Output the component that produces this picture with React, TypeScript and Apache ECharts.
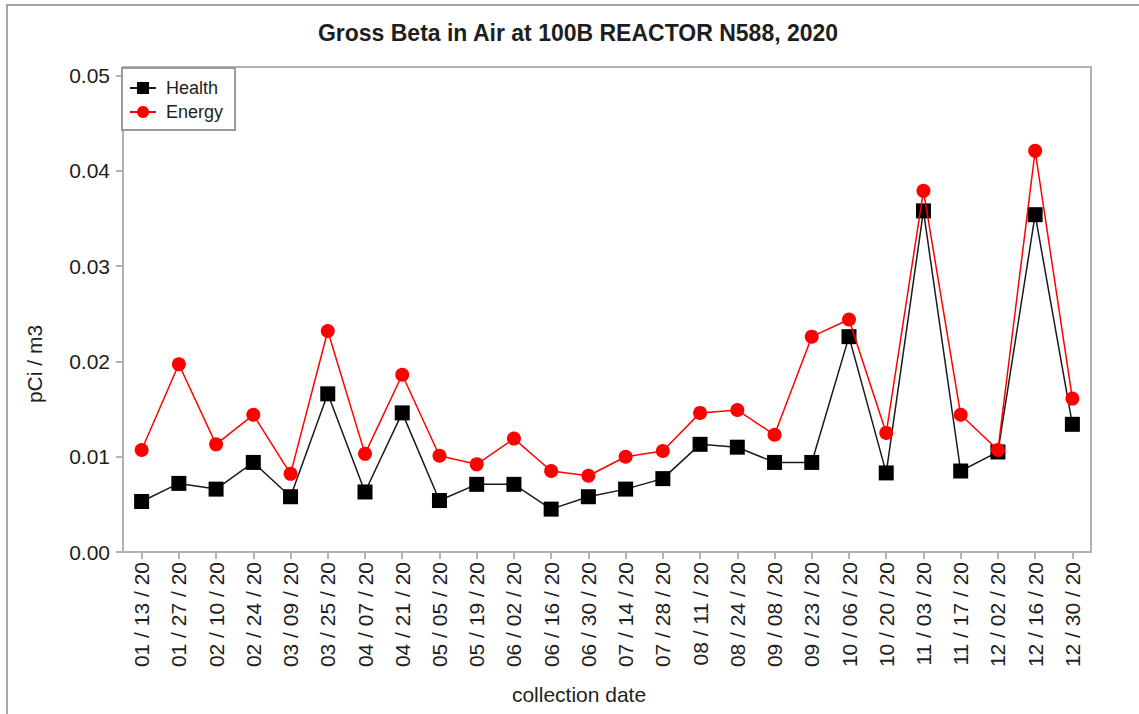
import React, { useEffect, useRef } from "react";
import * as echarts from "echarts";

const categories = [
  "01 / 13 / 20", "01 / 27 / 20", "02 / 10 / 20", "02 / 24 / 20", "03 / 09 / 20",
  "03 / 25 / 20", "04 / 07 / 20", "04 / 21 / 20", "05 / 05 / 20", "05 / 19 / 20",
  "06 / 02 / 20", "06 / 16 / 20", "06 / 30 / 20", "07 / 14 / 20", "07 / 28 / 20",
  "08 / 11 / 20", "08 / 24 / 20", "09 / 08 / 20", "09 / 23 / 20", "10 / 06 / 20",
  "10 / 20 / 20", "11 / 03 / 20", "11 / 17 / 20", "12 / 02 / 20", "12 / 16 / 20",
  "12 / 30 / 20",
];

const health = [
  0.0053, 0.0072, 0.0066, 0.0094, 0.0058, 0.0166, 0.0063, 0.0146, 0.0054, 0.0071,
  0.0071, 0.0045, 0.0058, 0.0066, 0.0077, 0.0113, 0.0110, 0.0094, 0.0094, 0.0226,
  0.0083, 0.0358, 0.0085, 0.0105, 0.0354, 0.0134,
];

const energy = [
  0.0107, 0.0197, 0.0113, 0.0144, 0.0082, 0.0232, 0.0103, 0.0186, 0.0101, 0.0092,
  0.0119, 0.0085, 0.0080, 0.0100, 0.0106, 0.0146, 0.0149, 0.0123, 0.0226, 0.0244,
  0.0125, 0.0379, 0.0144, 0.0107, 0.0421, 0.0161,
];

const yTicks = [0, 0.01, 0.02, 0.03, 0.04, 0.05];

const FONT = "'Liberation Sans', Arial, sans-serif";
const TEXT = "#1e1e1e";
const GREY = "#b2b2b2";

export default function App() {
  const ref = useRef<HTMLDivElement>(null);

  useEffect(() => {
    if (!ref.current) return;
    const chart = echarts.init(ref.current, null, { renderer: "svg" });
    chart.setOption({
      animation: false,
      backgroundColor: "#ffffff",
      textStyle: { fontFamily: FONT },
      graphic: [
        {
          type: "rect",
          shape: { x: 7, y: 5, width: 1160, height: 740 },
          style: { fill: "none", stroke: "#a6a6a6", lineWidth: 2 },
          silent: true,
          z: -10,
        },
        {
          type: "text",
          x: 578,
          y: 33,
          style: {
            text: "Gross Beta in Air at 100B REACTOR N588, 2020",
            font: `bold 23px ${FONT}`,
            fill: TEXT,
            textAlign: "center",
            textVerticalAlign: "middle",
          },
        },
        {
          type: "text",
          x: 34,
          y: 364,
          rotation: Math.PI / 2,
          style: {
            text: "pCi / m3",
            font: `21px ${FONT}`,
            fill: TEXT,
            textAlign: "center",
            textVerticalAlign: "middle",
          },
        },
        {
          type: "text",
          x: 579,
          y: 694,
          style: {
            text: "collection date",
            font: `21px ${FONT}`,
            fill: TEXT,
            textAlign: "center",
            textVerticalAlign: "middle",
          },
        },
      ],
      legend: {
        orient: "vertical",
        left: 122,
        top: 68,
        padding: [11, 12, 9, 7],
        itemWidth: 26,
        itemHeight: 15,
        itemGap: 6,
        borderColor: "#999999",
        borderWidth: 2,
        backgroundColor: "#ffffff",
        textStyle: { fontSize: 18, color: TEXT, fontFamily: FONT, padding: [0, 0, 0, 5] },
        data: ["Health", "Energy"],
        z: 10,
      },
      grid: {
        left: 123,
        top: 67,
        right: 48,
        bottom: 162,
        show: true,
        borderColor: GREY,
        borderWidth: 2,
        backgroundColor: "#ffffff",
      },
      xAxis: {
        type: "category",
        data: categories,
        boundaryGap: true,
        axisLine: { show: true, lineStyle: { color: GREY, width: 2 } },
        axisTick: { show: true, alignWithLabel: true, length: 7, lineStyle: { color: GREY, width: 2 } },
        axisLabel: {
          rotate: 90,
          margin: 10,
          interval: 0,
          fontSize: 21,
          color: TEXT,
          fontFamily: FONT,
        },
        splitLine: { show: false },
      },
      yAxis: {
        type: "value",
        min: 0,
        max: 0.0509,
        interval: 0.01,
        axisLine: { show: true, lineStyle: { color: GREY, width: 2 } },
        axisTick: { show: true, length: 7, lineStyle: { color: GREY, width: 2 }, customValues: yTicks },
        axisLabel: {
          margin: 13,
          fontSize: 21,
          color: TEXT,
          fontFamily: FONT,
          customValues: yTicks,
          formatter: (v: number) => {
            const k = v / 0.01;
            return Math.abs(k - Math.round(k)) < 1e-6 ? v.toFixed(2) : "";
          },
        },
        splitLine: { show: false },
      },
      series: [
        {
          name: "Health",
          type: "line",
          data: health,
          symbol: "rect",
          symbolSize: 15,
          itemStyle: { color: "#000000" },
          lineStyle: { color: "#1a1a1a", width: 1.5 },
          z: 3,
        },
        {
          name: "Energy",
          type: "line",
          data: energy,
          symbol: "circle",
          symbolSize: 14,
          itemStyle: { color: "#ff0000" },
          lineStyle: { color: "#ff0000", width: 1.5 },
          z: 4,
        },
      ],
    });
    return () => chart.dispose();
  }, []);

  return (
    <div
      ref={ref}
      style={{ position: "fixed", left: 0, top: 0, width: 1139, height: 714 }}
    />
  );
}
